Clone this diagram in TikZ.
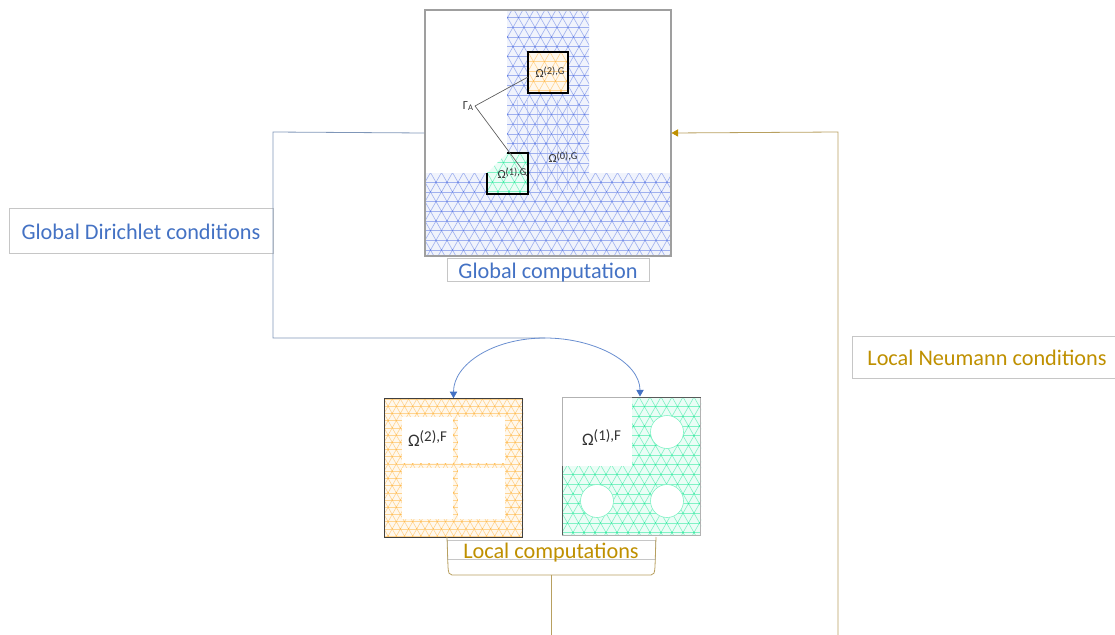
\documentclass[tikz,border=0pt]{standalone}
\usepackage{fontspec}
\setmainfont{Carlito}
\usetikzlibrary{arrows,arrows.meta,positioning,calc}
\definecolor{labelblue}{HTML}{4472C4}
\definecolor{labelgold}{HTML}{BF9000}
\definecolor{wireblue}{HTML}{7F96B8}
\definecolor{wiregold}{HTML}{B8A060}
\definecolor{meshblue}{HTML}{3F62E0}
\definecolor{meshorange}{HTML}{FFAA22}
\definecolor{meshgreen}{HTML}{00E68A}
\tikzset{
    label-box/.style={
        rectangle,
        draw=gray!45,
        fill=white,
        inner sep=0pt,
        line width=.5pt,
        text height=13pt,
        text depth=0pt,
        font=\fontsize{16.7pt}{18pt}\selectfont,
    },
    sub-frame/.style={
        rectangle,
        draw=black,
        line width=1.3pt,
        inner sep=0pt,
        minimum size=30.5pt,
    },
    dom-label/.style={
        inner sep=0pt,
        font=\fontsize{9.2pt}{11pt}\selectfont,
        text=black!80,
    },
    big-label/.style={
        dom-label,
        font=\fontsize{13.2pt}{15pt}\selectfont,
    },
    mesh-line/.style={
        draw=#1!50,
        line width=.45pt,
    },
    mesh-point/.style={
        fill=#1!80,
        draw=none,
    },
    mesh-hole/.style={
        fill=white,
        draw=meshgreen!50,
        line width=.45pt,
    },
    dirichlet/.style={
        draw=wireblue,
        line width=.6pt,
    },
    neumann/.style={
        draw=wiregold,
        line width=.6pt,
    },
    feed/.style={
        draw=labelblue!80!white,
        line width=.6pt,
        ->,>={Stealth[length=5pt,width=5.5pt,inset=0pt,color=labelblue]},
    },
    back-feed/.style={
        neumann,
        ->,>={Stealth[length=5pt,width=5.5pt,inset=0pt,color=labelgold]},
    },
    node distance=2.5cm,
}
\newcommand{\dom}[2]{Ω\raisebox{.6ex}{\fontsize{.85em}{1em}\selectfont(#1),#2}}
\newcommand{\trimesh}[6]{
    \pgfmathsetmacro\rowh{0.88*#6}
    \pgfmathtruncatemacro\nrow{(#5-#3)/\rowh+1}
    \pgfmathtruncatemacro\ncol{(#4-#2)/#6+1}
    \pgfmathtruncatemacro\nadd{\nrow/2+1}
    \pgfmathtruncatemacro\nmax{\ncol+\nadd}
    \fill[#1!8] (#2,#3) rectangle (#4,#5);
    \foreach \r in {0,...,\nrow}
        \draw[mesh-line=#1] (#2,{#3+\r*\rowh}) -- (#4,{#3+\r*\rowh});
    \foreach \c in {-\nadd,...,\ncol}
        \draw[mesh-line=#1] ({#2+\c*#6},#3) -- ++({\nrow*0.5*#6},{\nrow*\rowh});
    \foreach \c in {0,...,\nmax}
        \draw[mesh-line=#1] ({#2+\c*#6},#3) -- ++({-\nrow*0.5*#6},{\nrow*\rowh});
    \foreach \r in {0,...,\nrow}
        \foreach \c in {0,...,\ncol}
            \fill[mesh-point=#1] ({#2+(\c+0.5*mod(\r,2))*#6},{#3+\r*\rowh}) circle (.8);
}

\begin{document}
\begin{tikzpicture}[x=.75pt,y=-.75pt]
    \useasboundingbox (0,0) rectangle (1115,635);

    \begin{scope}
        \clip (507,10) -- (589,10) -- (589,173) -- (671,173) -- (671,256) -- (425,256) -- (425,173) -- (507,173) -- cycle;
        \trimesh{meshblue}{425}{8}{671}{258}{11}
        \foreach \x in {517.5,527.5,...,580}
            \draw[mesh-line=meshblue,opacity=.45] (\x,100) -- (\x,190);
    \end{scope}
    \begin{scope}
        \clip (528,52) rectangle (568,93);
        \fill [meshorange!15] (528,52) rectangle (568,93);
        \trimesh{meshorange}{528}{52}{568}{93}{11}
    \end{scope}
    \begin{scope}
        \clip (507,153) -- (528,153) -- (528,194) -- (487,194) -- (487,173) -- cycle;
        \fill [white] (487,153) rectangle (528,194);
        \trimesh{meshgreen}{487}{153}{528}{194}{11}
    \end{scope}
    \node [rectangle,draw=gray!75,line width=.8pt,inner sep=0pt,minimum size=184.5pt] at (548,133) (GM) {};
    \node [sub-frame] at (548,72.5) (O2) {};
    \draw [draw=black,line width=1.3pt] (487,173) -- (487,194) -- (528,194) -- (528,153) -- (507,153);
    \node [dom-label] at (550,72) (D2) {\dom{2}{G}};
    \node [dom-label] at (512,173) (D1) {\dom{1}{G}};
    \node [dom-label] at (563,157) (D0) {\dom{0}{G}};
    \node [dom-label] at (468,106) (GA) {Γ\raisebox{-.3ex}{\fontsize{.7em}{1em}\selectfont A}};
    \coordinate (T2) at (528,77);
    \coordinate (T1) at (527,176);
    \draw [draw=black!65,line width=.5pt] (T2) -- (475,106) -- (T1);

    \begin{scope}
        \clip (384,399) rectangle (523,537);
        \trimesh{meshorange}{384}{399}{523}{537}{8.2}
        \fill [white] (402,417) rectangle (453,463);
        \fill [white] (458,417) rectangle (505,463);
        \fill [white] (402,468) rectangle (453,519);
        \fill [white] (458,468) rectangle (505,519);
    \end{scope}
    \node [rectangle,draw=black!75,line width=.8pt,inner sep=0pt,minimum size=103.8pt] at (453.5,468) (LF2) {};
    \begin{scope}
        \clip (562,397) rectangle (701,535);
        \trimesh{meshgreen}{562}{397}{701}{535}{11}
        \fill [white] (562,397) rectangle (632,466);
        \draw [mesh-hole] (667,432) circle (16.5);
        \draw [mesh-hole] (667,501) circle (16.5);
        \draw [mesh-hole] (597,501) circle (16.5);
    \end{scope}
    \node [rectangle,draw=gray!60,line width=.7pt,inner sep=0pt,minimum size=103.5pt] at (631.5,466) (LF1) {};
    \draw [draw=black!65,line width=.7pt] (562,466) -- (562,535);
    \draw [draw=black!65,line width=.7pt] (632,397) -- (701,397);
    \node [big-label] at (427.5,439) (F2) {\dom{2}{F}};
    \node [big-label] at (601.5,438) (F1) {\dom{1}{F}};

    \node [label-box,text=labelblue,minimum width=198pt,minimum height=33.7pt] at (141,230.5) (GD) {Global Dirichlet conditions};
    \node [label-box,text=labelblue,minimum width=151.5pt,minimum height=17.2pt] at (548,269.5) (GC) {Global computation};
    \node [label-box,text=labelgold,minimum width=156pt,minimum height=14.2pt] at (551,549.5) (LC) {Local computations};
    \node [label-box,text=labelgold,minimum width=202.5pt,minimum height=31.5pt] at (987,357) (LN) {Local Neumann conditions};

    \coordinate (DT) at (273,132);
    \coordinate (DB) at (273,338);
    \coordinate (DS) at (545,338);
    \coordinate (A1) at (640,396.5);
    \coordinate (NB) at (838,635);
    \coordinate (NT) at (838,132);
    \coordinate (CL) at (447,537);
    \coordinate (CR) at (656,537);
    \coordinate (CM) at (551,575);
    \coordinate (CE) at (551,635);

    \draw [dirichlet] (GM.west) -- (DT) -- (DB) -- (DS);
    \draw [feed] (DS) .. controls +(-52,0) and +(0,-34) .. (LF2.north);
    \draw [feed] (DS) .. controls +(50,0) and +(0,-34) .. (A1);
    \draw [neumann] (CL) -- (448,567) .. controls (448.5,573) and (449,575) .. (452,575) -- (651,575) .. controls (654,575) and (654.5,573) .. (655,567) -- (CR);
    \draw [neumann] (CM) -- (CE);
    \draw [back-feed] (NB) -- (NT) -- (GM.east);
\end{tikzpicture}
\end{document}
